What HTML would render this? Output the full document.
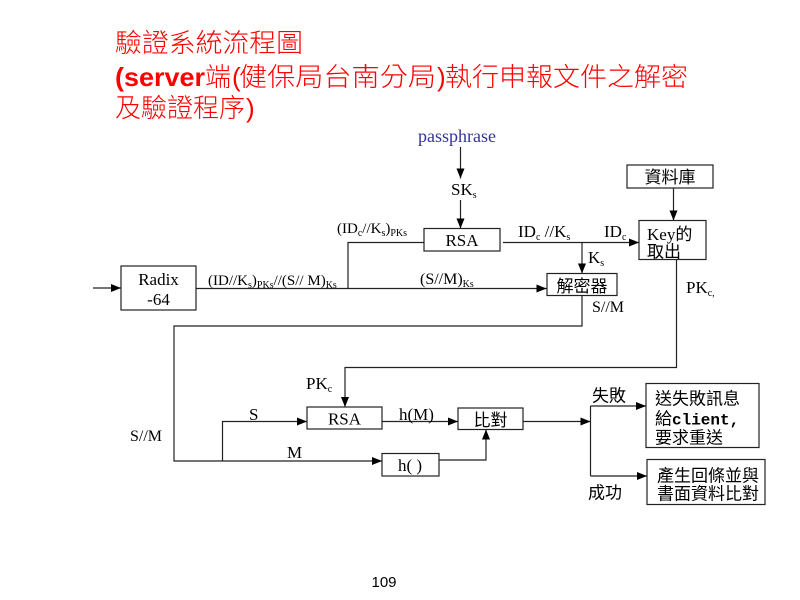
<!DOCTYPE html>
<html><head><meta charset="utf-8"><style>
html,body{margin:0;padding:0;background:#fff;}
svg{display:block;}
.t{font-family:"Liberation Serif","Noto Serif CJK SC",serif;fill:#000;}
.c{font-family:"Liberation Sans","Noto Sans CJK TC",sans-serif;fill:#000;}
.r{font-family:"Liberation Sans","Noto Sans CJK TC",sans-serif;fill:#f00;font-weight:300;}
</style></head><body>
<svg width="800" height="600" viewBox="0 0 800 600" xmlns="http://www.w3.org/2000/svg">
<defs>
<marker id="a" markerWidth="10" markerHeight="8" refX="10" refY="4" orient="auto" markerUnits="userSpaceOnUse">
<path d="M0,0 L10,4 L0,8 z" fill="#000"/>
</marker>
</defs>
<rect width="800" height="600" fill="#fff"/>

<!-- Title -->
<text class="r" x="115" y="52" font-size="26" textLength="188" lengthAdjust="spacingAndGlyphs">驗證系統流程圖</text>
<text class="r" x="115" y="86" font-size="26" font-weight="bold" style="font-weight:bold" textLength="90" lengthAdjust="spacingAndGlyphs">(server</text>
<text class="r" x="205" y="86" font-size="26">端</text>
<text class="r" x="232" y="86" font-size="26">(</text>
<text class="r" x="239" y="86" font-size="26" textLength="197" lengthAdjust="spacingAndGlyphs">健保局台南分局</text>
<text class="r" x="437" y="86" font-size="26">)</text>
<text class="r" x="445" y="86" font-size="26" textLength="243" lengthAdjust="spacingAndGlyphs">執行申報文件之解密</text>
<text class="r" x="115" y="117" font-size="26" textLength="130" lengthAdjust="spacingAndGlyphs">及驗證程序</text>
<text class="r" x="246" y="117" font-size="26">)</text>

<g stroke="#222" stroke-width="1.2" fill="none">
<line x1="460.5" y1="147" x2="460.5" y2="178.5" marker-end="url(#a)"/>
<line x1="460.5" y1="200" x2="460.5" y2="228.5" marker-end="url(#a)"/>
<rect x="424" y="228.5" width="76" height="22.5"/>
<polyline points="348,288.5 348,242.5 424,242.5"/>
<line x1="93" y1="288" x2="121" y2="288" marker-end="url(#a)"/>
<rect x="121" y="266" width="75" height="44"/>
<line x1="196" y1="288.5" x2="546.5" y2="288.5" marker-end="url(#a)"/>
<line x1="503" y1="242.5" x2="639" y2="242.5" marker-end="url(#a)"/>
<line x1="582" y1="242.5" x2="582" y2="273.5" marker-end="url(#a)"/>
<rect x="547" y="273.5" width="70" height="22"/>
<rect x="627" y="165" width="86" height="23"/>
<line x1="673.5" y1="188" x2="673.5" y2="220.5" marker-end="url(#a)"/>
<rect x="639" y="220.5" width="67" height="39"/>
<polyline points="676.5,259.5 676.5,367.5 345,367.5 345,407" marker-end="url(#a)"/>
<polyline points="582,295.5 582,326 174,326 174,461 382,461" marker-end="url(#a)"/>
<polyline points="222.5,461 222.5,421.5 307,421.5" marker-end="url(#a)"/>
<rect x="307" y="407" width="75" height="22"/>
<line x1="382" y1="421.5" x2="458" y2="421.5" marker-end="url(#a)"/>
<rect x="382" y="453.5" width="57" height="22.5"/>
<polyline points="439,460 486,460 486,429.5" marker-end="url(#a)"/>
<rect x="458" y="408" width="65" height="21.5"/>
<line x1="523" y1="421.5" x2="590.5" y2="421.5" marker-end="url(#a)"/>
<line x1="590.5" y1="406" x2="590.5" y2="476"/>
<line x1="590.5" y1="406" x2="646" y2="406" marker-end="url(#a)"/>
<line x1="590.5" y1="476" x2="647" y2="476" marker-end="url(#a)"/>
<rect x="646" y="383.5" width="113" height="64"/>
<rect x="647" y="459.5" width="118" height="45"/>
</g>

<text class="t" x="418" y="142" font-size="18" style="fill:#33339a">passphrase</text>
<text class="t" x="451" y="195" font-size="17">SK<tspan font-size="10" dy="3">s</tspan></text>
<text class="t" x="462" y="246" font-size="17" text-anchor="middle">RSA</text>
<text class="t" x="337" y="233" font-size="15">(ID<tspan font-size="10" dy="3">c</tspan><tspan dy="-3">//K</tspan><tspan font-size="10" dy="3">s</tspan><tspan dy="-3">)</tspan><tspan font-size="10" dy="3">PKs</tspan></text>
<text class="t" x="158.5" y="285" font-size="17" text-anchor="middle">Radix</text>
<text class="t" x="158.5" y="305" font-size="17" text-anchor="middle">-64</text>
<text class="t" x="208" y="285" font-size="15">(ID//K<tspan font-size="10" dy="3">s</tspan><tspan dy="-3">)</tspan><tspan font-size="10" dy="3">PKs</tspan><tspan dy="-3">//(S// M)</tspan><tspan font-size="10" dy="3">Ks</tspan></text>
<text class="t" x="420" y="284" font-size="16">(S//M)<tspan font-size="10" dy="3">Ks</tspan></text>
<text class="t" x="518" y="237" font-size="17">ID<tspan font-size="10" dy="3">c</tspan><tspan dy="-3"> //K</tspan><tspan font-size="10" dy="3">s</tspan></text>
<text class="t" x="604" y="237" font-size="17">ID<tspan font-size="10" dy="3">c</tspan></text>
<text class="t" x="588" y="263" font-size="17">K<tspan font-size="10" dy="3">s</tspan></text>
<text class="t" x="686" y="293" font-size="17">PK<tspan font-size="10" dy="3">c,</tspan></text>
<text class="t" x="592" y="312" font-size="16">S//M</text>
<text class="t" x="130" y="441" font-size="16">S//M</text>
<text class="t" x="306" y="389" font-size="17">PK<tspan font-size="10" dy="3">c</tspan></text>
<text class="t" x="249" y="420" font-size="17">S</text>
<text class="t" x="287" y="458" font-size="17">M</text>
<text class="t" x="344.5" y="424.5" font-size="17" text-anchor="middle">RSA</text>
<text class="t" x="399" y="420" font-size="17">h(M)</text>
<text class="t" x="410" y="471" font-size="17" text-anchor="middle">h( )</text>

<text class="c" x="670" y="183" font-size="17" text-anchor="middle">資料庫</text>
<text class="c" x="582" y="292" font-size="17" text-anchor="middle">解密器</text>
<text class="c" x="647" y="240" font-size="17"><tspan font-family="Liberation Serif">Key</tspan>的</text>
<text class="c" x="647" y="257.5" font-size="17">取出</text>
<text class="c" x="490.5" y="426" font-size="17" text-anchor="middle">比對</text>
<text class="c" x="592" y="401.5" font-size="17">失敗</text>
<text class="c" x="588" y="498.5" font-size="17">成功</text>
<text class="c" x="655" y="404.5" font-size="17">送失敗訊息</text>
<text class="c" x="655" y="424.5" font-size="17">給<tspan font-family="Liberation Mono" font-weight="bold" font-size="16">client,</tspan></text>
<text class="c" x="655" y="443.5" font-size="17">要求重送</text>
<text class="c" x="657" y="481.5" font-size="17">產生回條並與</text>
<text class="c" x="657" y="499.5" font-size="17">書面資料比對</text>

<text class="c" x="384" y="587" font-size="15" text-anchor="middle">109</text>
</svg>
</body></html>
